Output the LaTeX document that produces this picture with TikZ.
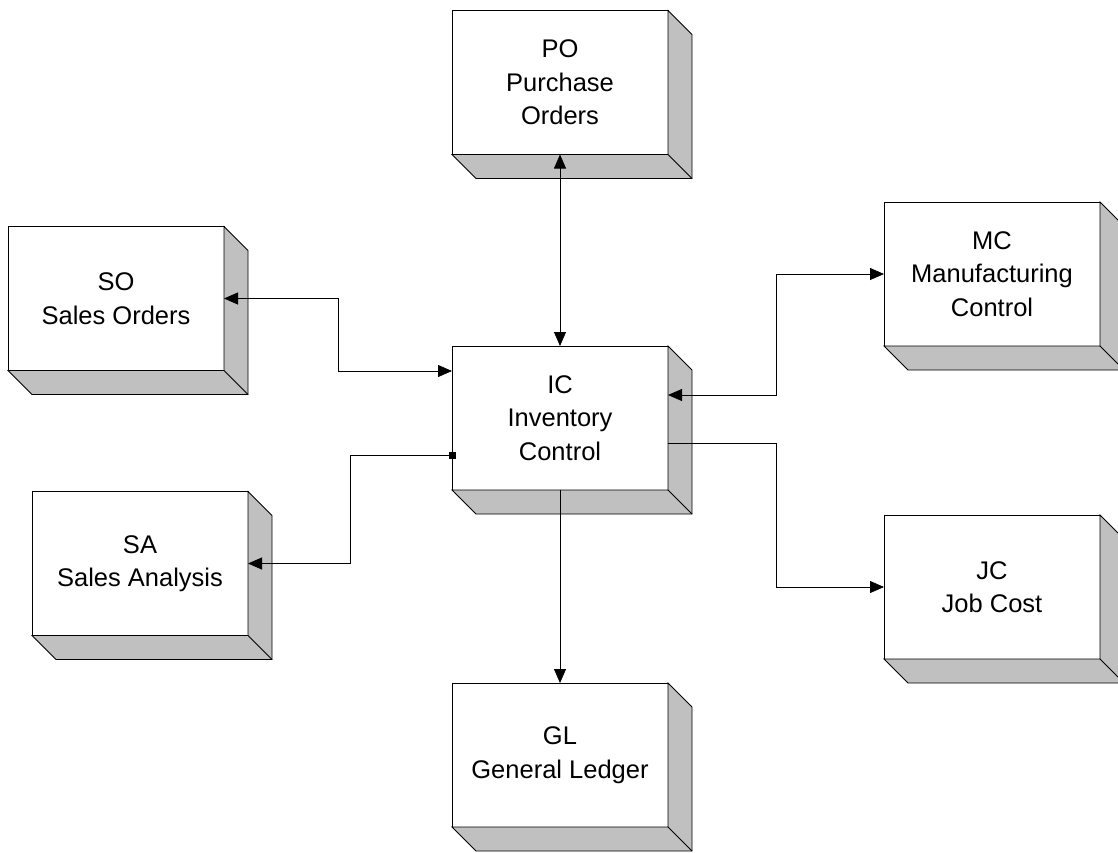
\documentclass[tikz,border=0pt]{standalone}
\usepackage{fontspec}
\setmainfont{Liberation Sans}
\usetikzlibrary{arrows.meta}
\definecolor{shadowgray}{HTML}{C0C0C0}
\tikzset{
  module/.style={draw=black, line width=0.8pt, fill=white, minimum width=216pt, minimum height=144pt,
    inner sep=0pt, outer sep=0pt, align=center, font=\fontsize{25.5pt}{33.5pt}\selectfont},
  depthface/.style={fill=shadowgray, draw=black, line width=0.8pt, line join=miter},
  conn/.style={draw=black, line width=0.8pt},
  tip/.tip={Triangle[length=14pt,width=12pt]},
  onearrow/.style={conn, -tip},
  twoarrow/.style={conn, tip-tip},
  sqarrow/.style={conn, {Square[length=7pt,width=7pt]}-tip}
}
\newcommand{\depth}[1]{%
  \path[depthface] (#1.south west) -- ([shift={(24pt,-24pt)}]#1.south west)
    -- ([shift={(24pt,-24pt)}]#1.south east) -- ([shift={(24pt,-24pt)}]#1.north east)
    -- (#1.north east) -- (#1.south east) -- cycle;
  \draw[line width=0.8pt] (#1.south east) -- ([shift={(24pt,-24pt)}]#1.south east);
}
\begin{document}
\begin{tikzpicture}[x=1pt,y=-1pt]
\useasboundingbox (0,0) rectangle (1118,852);
\node[module] (po) at (560,82.5) {PO\\Purchase\\Orders};
\node[module] (ic) at (560,418) {IC\\Inventory\\Control};
\node[module] (so) at (116,298.5) {SO\\Sales Orders};
\node[module] (mc) at (992,274) {MC\\Manufacturing\\Control};
\node[module] (sa) at (140,563.5) {SA\\Sales Analysis};
\node[module] (jc) at (992,587) {JC\\Job Cost};
\node[module] (gl) at (560,755) {GL\\General Ledger};
\depth{po}\depth{ic}\depth{so}\depth{mc}\depth{sa}\depth{jc}\depth{gl}
\draw[twoarrow] (po.south) -- (ic.north);
\draw[twoarrow] (so.east) -- (338,298.5) |- ([yshift=47pt]ic.west);
\draw[sqarrow] ([xshift=3.5pt,yshift=-37pt]ic.west) -- (350,455) |- (sa.east);
\draw[twoarrow] ([yshift=23pt]ic.east) -- (776,395) |- (mc.west);
\draw[onearrow] ([yshift=-25pt]ic.east) -- (776,443) |- (jc.west);
\draw[onearrow] (ic.south) -- (gl.north);
\end{tikzpicture}
\end{document}
